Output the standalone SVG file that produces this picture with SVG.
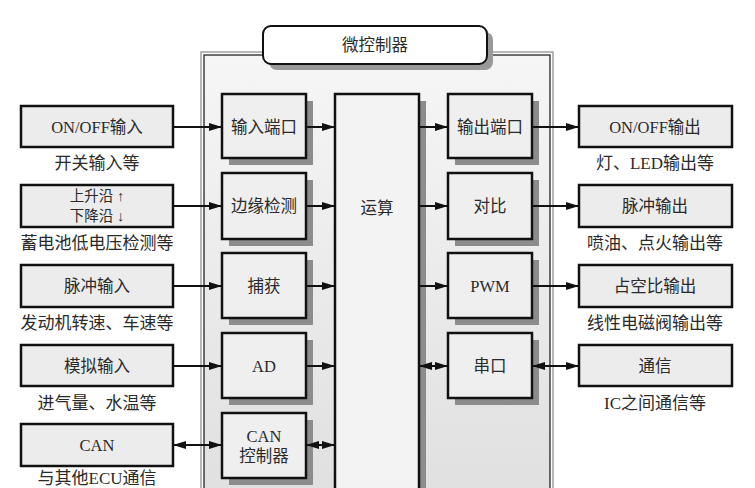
<svg xmlns="http://www.w3.org/2000/svg" width="755" height="488" viewBox="0 0 755 488">
<defs>
<linearGradient id="cg" x1="0" y1="0" x2="0" y2="1">
<stop offset="0" stop-color="#f6f6f6"/>
<stop offset="1" stop-color="#e0e0e0"/>
</linearGradient>
<marker id="ah" viewBox="0 0 13 8" refX="13" refY="4" markerWidth="13" markerHeight="8" markerUnits="userSpaceOnUse" orient="auto-start-reverse">
<path d="M0,0 L13,4 L0,8 z" fill="#111"/>
</marker>
<style>
text{font-family:"Liberation Serif","Noto Sans CJK SC",serif;fill:#2a2a2a;font-size:16.5px;text-anchor:middle;dominant-baseline:central}
.cap{font-size:17px}
.two{font-size:14.5px}
.box{fill:#ececec;stroke:#111;stroke-width:2.5}
.mod{fill:#efefef;stroke:#111;stroke-width:2.5}
.sh{fill:#8c8c8c}
.ln{stroke:#111;stroke-width:2;fill:none;marker-end:url(#ah)}
.dl{stroke:#111;stroke-width:2;fill:none;marker-end:url(#ah);marker-start:url(#ah)}
</style>
</defs>
<rect width="755" height="488" fill="#fff"/>

<g id="container">
<rect x="201" y="52" width="352" height="440" fill="none" stroke="#888" stroke-width="1.2"/>
<rect x="204" y="55" width="346" height="440" fill="url(#cg)" stroke="#111" stroke-width="1.2"/>
</g>

<g id="title">
<rect x="269" y="32" width="224" height="38" rx="8" fill="#999"/>
<rect x="263" y="26" width="224" height="38" rx="8" fill="#fff" stroke="#111" stroke-width="2"/>
<text x="375" y="45">微控制器</text>
</g>

<g id="calc">
<rect x="419" y="101" width="7" height="400" class="sh"/>
<rect x="335" y="94" width="84" height="410" fill="#f3f3f3" stroke="#111" stroke-width="2.5"/>
<text x="377" y="208">运算</text>
</g>

<g id="in1"><rect x="21" y="106" width="152" height="41" class="box"/><text x="97" y="127">ON/OFF输入</text><text class="cap" x="97" y="163">开关输入等</text></g>
<g id="in2"><rect x="21" y="185" width="152" height="42" class="box"/><text class="two" x="97" y="196">上升沿 ↑</text><text class="two" x="97" y="216">下降沿 ↓</text><text class="cap" x="97" y="243">蓄电池低电压检测等</text></g>
<g id="in3"><rect x="21" y="265" width="152" height="42" class="box"/><text x="97" y="286">脉冲输入</text><text class="cap" x="97" y="323">发动机转速、车速等</text></g>
<g id="in4"><rect x="21" y="345" width="152" height="41" class="box"/><text x="97" y="366">模拟输入</text><text class="cap" x="97" y="403">进气量、水温等</text></g>
<g id="in5"><rect x="21" y="424" width="152" height="42" class="box"/><text x="97" y="445">CAN</text><text class="cap" x="97" y="478">与其他ECU通信</text></g>

<g id="m1"><rect x="229" y="101" width="84" height="64" class="sh"/><rect x="222" y="94" width="84" height="64" class="mod"/><text x="264" y="127">输入端口</text></g>
<g id="m2"><rect x="229" y="180" width="84" height="66" class="sh"/><rect x="222" y="173" width="84" height="66" class="mod"/><text x="264" y="206">边缘检测</text></g>
<g id="m3"><rect x="229" y="260" width="84" height="65" class="sh"/><rect x="222" y="253" width="84" height="65" class="mod"/><text x="264" y="286">捕获</text></g>
<g id="m4"><rect x="229" y="340" width="84" height="65" class="sh"/><rect x="222" y="333" width="84" height="65" class="mod"/><text x="264" y="366">AD</text></g>
<g id="m5"><rect x="229" y="420" width="84" height="65" class="sh"/><rect x="222" y="413" width="84" height="65" class="mod"/><text x="264" y="436">CAN</text><text x="264" y="456">控制器</text></g>

<g id="r1"><rect x="455" y="101" width="84" height="64" class="sh"/><rect x="448" y="94" width="84" height="64" class="mod"/><text x="490" y="127">输出端口</text></g>
<g id="r2"><rect x="455" y="180" width="84" height="66" class="sh"/><rect x="448" y="173" width="84" height="66" class="mod"/><text x="490" y="206">对比</text></g>
<g id="r3"><rect x="455" y="260" width="84" height="65" class="sh"/><rect x="448" y="253" width="84" height="65" class="mod"/><text x="490" y="286">PWM</text></g>
<g id="r4"><rect x="455" y="340" width="84" height="65" class="sh"/><rect x="448" y="333" width="84" height="65" class="mod"/><text x="490" y="366">串口</text></g>

<g id="out1"><rect x="579" y="106" width="153" height="41" class="box"/><text x="655" y="127">ON/OFF输出</text><text class="cap" x="655" y="163">灯、LED输出等</text></g>
<g id="out2"><rect x="579" y="185" width="153" height="42" class="box"/><text x="655" y="206">脉冲输出</text><text class="cap" x="655" y="243">喷油、点火输出等</text></g>
<g id="out3"><rect x="579" y="265" width="153" height="42" class="box"/><text x="655" y="286">占空比输出</text><text class="cap" x="655" y="323">线性电磁阀输出等</text></g>
<g id="out4"><rect x="579" y="345" width="153" height="41" class="box"/><text x="655" y="366">通信</text><text class="cap" x="655" y="403">IC之间通信等</text></g>

<g id="connectors">
<line class="ln" x1="173" y1="127" x2="222" y2="127"/>
<line class="ln" x1="173" y1="206" x2="222" y2="206"/>
<line class="ln" x1="173" y1="286" x2="222" y2="286"/>
<line class="ln" x1="173" y1="366" x2="222" y2="366"/>
<line class="dl" x1="173" y1="445" x2="222" y2="445"/>
<line class="ln" x1="306" y1="127" x2="335" y2="127"/>
<line class="ln" x1="306" y1="206" x2="335" y2="206"/>
<line class="ln" x1="306" y1="286" x2="335" y2="286"/>
<line class="ln" x1="306" y1="366" x2="335" y2="366"/>
<line class="dl" x1="306" y1="445" x2="335" y2="445"/>
<line class="ln" x1="419" y1="127" x2="448" y2="127"/>
<line class="ln" x1="419" y1="206" x2="448" y2="206"/>
<line class="ln" x1="419" y1="286" x2="448" y2="286"/>
<line class="dl" x1="419" y1="366" x2="448" y2="366"/>
<line class="ln" x1="532" y1="127" x2="579" y2="127"/>
<line class="ln" x1="532" y1="206" x2="579" y2="206"/>
<line class="ln" x1="532" y1="286" x2="579" y2="286"/>
<line class="dl" x1="532" y1="366" x2="579" y2="366"/>
</g>
</svg>
